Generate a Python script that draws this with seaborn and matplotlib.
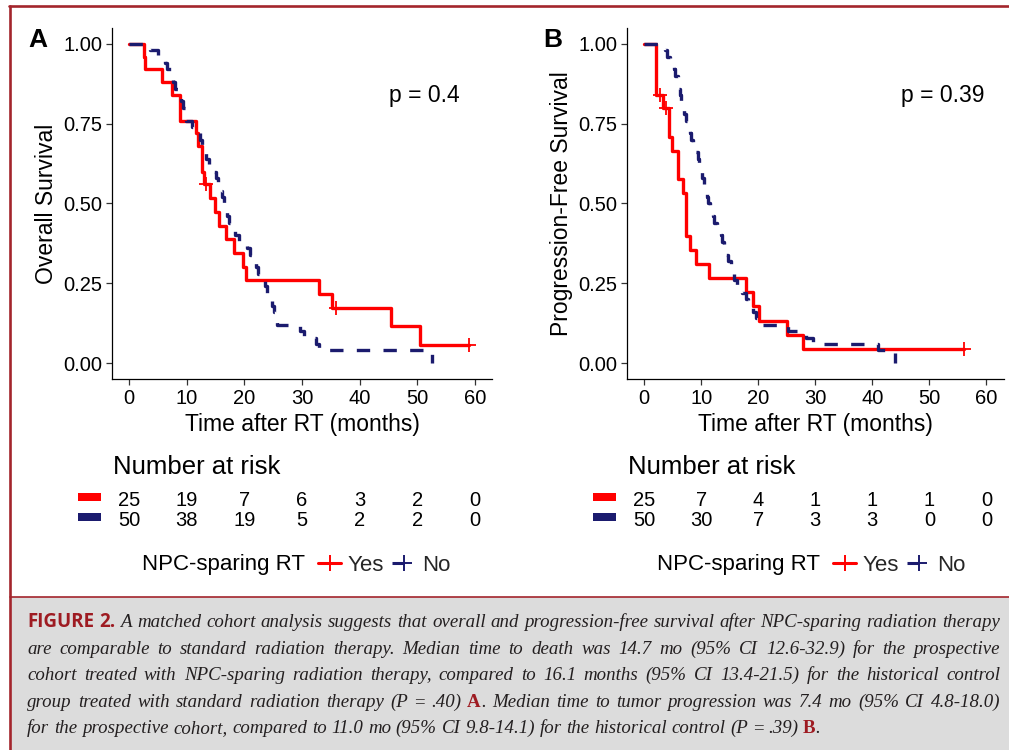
import matplotlib
matplotlib.use("Agg")
import matplotlib.pyplot as plt
import matplotlib.transforms as mtransforms
from matplotlib.patches import Rectangle
from matplotlib.lines import Line2D
import numpy as np
import pandas as pd
import seaborn as sns

# ---------------- data ----------------
x_ticks = [0, 10, 20, 30, 40, 50, 60]
y_ticks = [0.00, 0.25, 0.50, 0.75, 1.00]
y_tick_labels = ["0.00", "0.25", "0.50", "0.75", "1.00"]
groups = ["Yes", "No"]

# Panel A: overall survival
os_yes_time = [0, 2.6, 2.8, 5.7, 7.5, 8.8, 11.6, 12.0, 12.6, 13.0, 14.0, 14.9, 15.6,
               16.8, 18.2, 19.7, 20.2, 32.9, 35.2, 45.5, 50.5, 59.0]
os_yes_surv = [1.0, 0.96, 0.92, 0.88, 0.84, 0.76, 0.72, 0.68, 0.60, 0.56, 0.517, 0.474,
               0.431, 0.388, 0.345, 0.302, 0.259, 0.216, 0.172, 0.115, 0.057, 0.057]
os_yes_cens_time = [13.4, 35.9, 59.0]
os_yes_cens_surv = [0.56, 0.172, 0.057]

os_no_time = [0, 3.6, 5.0, 6.2, 6.6, 7.2, 7.6, 8.0, 8.6, 9.0,
              9.4, 9.8, 9.9, 10.9, 11.6, 12.2, 12.6, 13.0, 13.4, 13.8,
              14.4, 15.0, 15.4, 15.8, 16.1, 16.4, 16.7, 17.0, 17.3, 17.8,
              18.4, 19.0, 20.4, 21.0, 21.6, 22.0, 22.4, 23.0, 23.5, 24.0,
              24.4, 24.8, 25.2, 25.5, 25.7, 29.6, 30.3, 32.4, 33.0, 52.5]
os_no_surv = [1.00, 0.98, 0.96, 0.94, 0.92, 0.90, 0.88, 0.86, 0.84, 0.82,
              0.80, 0.78, 0.76, 0.74, 0.72, 0.70, 0.68, 0.66, 0.64, 0.62,
              0.60, 0.58, 0.56, 0.54, 0.52, 0.50, 0.48, 0.46, 0.44, 0.42,
              0.40, 0.38, 0.36, 0.34, 0.32, 0.30, 0.28, 0.26, 0.24, 0.22,
              0.20, 0.18, 0.16, 0.14, 0.12, 0.10, 0.08, 0.06, 0.04, 0.00]

# Panel B: progression-free survival
pfs_yes_time = [0, 2.1, 3.3, 4.3, 4.9, 5.9, 6.9, 7.35, 8.1, 9.15, 11.3, 17.9, 19.0,
                20.1, 25.0, 27.8, 56.0]
pfs_yes_surv = [1.0, 0.84, 0.798, 0.709, 0.665, 0.576, 0.532, 0.399, 0.355, 0.310,
                0.267, 0.222, 0.178, 0.133, 0.089, 0.044, 0.044]
pfs_yes_cens_time = [2.85, 3.9, 56.0]
pfs_yes_cens_surv = [0.84, 0.798, 0.044]

pfs_no_time = [0, 3.6, 4.0, 4.6, 5.2, 5.5, 5.9, 6.1, 6.3, 6.5,
               6.8, 7.0, 7.3, 7.7, 8.0, 8.2, 8.5, 9.0, 9.4, 9.7,
               9.9, 10.2, 10.5, 10.8, 11.0, 11.2, 11.6, 12.0, 12.3, 12.8,
               13.4, 13.7, 14.0, 14.4, 14.7, 15.2, 15.5, 15.8, 16.3, 17.2,
               17.8, 18.2, 19.0, 19.6, 20.5, 25.2, 28.3, 29.6, 41.0, 44.0]
pfs_no_surv = [1.00, 0.98, 0.96, 0.94, 0.92, 0.90, 0.88, 0.86, 0.84, 0.82,
               0.80, 0.78, 0.76, 0.74, 0.72, 0.70, 0.68, 0.66, 0.64, 0.62,
               0.60, 0.58, 0.56, 0.54, 0.52, 0.50, 0.48, 0.46, 0.44, 0.42,
               0.40, 0.38, 0.36, 0.34, 0.32, 0.30, 0.28, 0.26, 0.24, 0.22,
               0.20, 0.18, 0.16, 0.14, 0.12, 0.10, 0.08, 0.06, 0.04, 0.00]

# Number at risk at x_ticks
risk_os_yes = [25, 19, 7, 6, 3, 2, 0]
risk_os_no = [50, 38, 19, 5, 2, 2, 0]
risk_pfs_yes = [25, 7, 4, 1, 1, 1, 0]
risk_pfs_no = [50, 30, 7, 3, 3, 0, 0]

p_values = ["p = 0.4", "p = 0.39"]
y_titles = ["Overall Survival", "Progression-Free Survival"]
panel_letters = ["A", "B"]
x_title = "Time after RT (months)"
risk_title = "Number at risk"
legend_title = "NPC-sparing RT"

caption_lines = [
    [("FIGURE 2.", "fig"), (" ", "it"), ("A matched cohort analysis suggests that overall and progression-free survival after NPC-sparing radiation therapy", "it")],
    [("are comparable to standard radiation therapy. Median time to death was 14.7 mo (95% CI 12.6-32.9) for the prospective", "it")],
    [("cohort treated with NPC-sparing radiation therapy, compared to 16.1 months (95% CI 13.4-21.5) for the historical control", "it")],
    [("group treated with standard radiation therapy (P ", "it"), ("=", "rm"), (" .40) ", "it"), ("A", "bd"),
     (". Median time to tumor progression was 7.4 mo (95% CI 4.8-18.0)", "it")],
    [("for the prospective cohort, compared to 11.0 mo (95% CI 9.8-14.1) for the historical control (P ", "it"),
     ("=", "rm"), (" .39) ", "it"), ("B", "bd"), (".", "it")],
]

# ---------------- style ----------------
RED = "#FF0000"
NAVY = "#1B1B6E"
FRAME = "#A3252C"
CAP_RED = "#9E1B22"
CAP_BG = "#DCDCDC"
W, H = 1009, 750

sns.set_style("ticks")
plt.rcParams["font.family"] = ["Liberation Sans", "DejaVu Sans"]

fig = plt.figure(figsize=(W / 100, H / 100), dpi=100)
fig.patch.set_facecolor("white")


def fx(x):
    return x / W


def fy(y):
    return 1 - y / H


def px_axes(left, top, right, bottom):
    return fig.add_axes([fx(left), fy(bottom), (right - left) / W, (bottom - top) / H])


# ---------------- frame and caption box ----------------
fig.patches.append(Rectangle((fx(10), 0), fx(W) - fx(10), fy(597), transform=fig.transFigure,
                             facecolor=CAP_BG, edgecolor="none", zorder=0))
fig.lines.append(Line2D([fx(10), fx(10)], [fy(5.5), 0], transform=fig.transFigure,
                        color=FRAME, lw=1.9, zorder=5))
fig.lines.append(Line2D([fx(9), 1], [fy(6), fy(6)], transform=fig.transFigure,
                        color=FRAME, lw=1.9, zorder=5))
fig.lines.append(Line2D([fx(10), 1], [fy(597), fy(597)], transform=fig.transFigure,
                        color=FRAME, lw=1.2, zorder=5))

panels = [
    dict(box=(112, 28, 492, 379), off=0,
         yes=(os_yes_time, os_yes_surv), no=(os_no_time, os_no_surv),
         cens=(os_yes_cens_time, os_yes_cens_surv), risk=(risk_os_yes, risk_os_no)),
    dict(box=(627, 28, 1003.5, 379), off=515,
         yes=(pfs_yes_time, pfs_yes_surv), no=(pfs_no_time, pfs_no_surv),
         cens=(pfs_yes_cens_time, pfs_yes_cens_surv), risk=(risk_pfs_yes, risk_pfs_no)),
]

for i, pnl in enumerate(panels):
    ax = px_axes(*pnl["box"])
    off = pnl["off"]
    df = pd.DataFrame({
        "time": list(pnl["yes"][0]) + list(pnl["no"][0]),
        "surv": list(pnl["yes"][1]) + list(pnl["no"][1]),
        "group": [groups[0]] * len(pnl["yes"][0]) + [groups[1]] * len(pnl["no"][0]),
    })
    sns.lineplot(data=df, x="time", y="surv", hue="group", style="group",
                 hue_order=groups, style_order=groups,
                 palette={"Yes": RED, "No": NAVY},
                 dashes={"Yes": "", "No": (4.0, 4.0)},
                 drawstyle="steps-post", estimator=None, sort=False,
                 linewidth=2.4, legend=False, ax=ax)
    sns.scatterplot(x=pnl["cens"][0], y=pnl["cens"][1], marker="+", s=110,
                    color=RED, linewidth=1.3, ax=ax, zorder=5, legend=False)

    ax.set_xlim(-3, 63)
    ax.set_ylim(-0.05, 1.05)
    ax.set_xticks(x_ticks)
    ax.set_xticklabels([str(t) for t in x_ticks])
    ax.set_yticks(y_ticks)
    ax.set_yticklabels(y_tick_labels)
    for s in ["top", "right"]:
        ax.spines[s].set_visible(False)
    for s in ["left", "bottom"]:
        ax.spines[s].set_linewidth(0.9)
        ax.spines[s].set_color("black")
    ax.tick_params(axis="both", length=4, width=0.9, color="#333333", pad=3,
                   labelsize=14.5, labelcolor="black")
    ax.set_xlabel(x_title, fontsize=16.5, labelpad=4, color="black")
    ax.set_ylabel(y_titles[i], fontsize=16.5, labelpad=3.5, color="black")
    ax.text(51.2 if i == 0 else 52.3, 0.84, p_values[i], ha="center", va="center",
            fontsize=16.5, color="black")
    ax.set_facecolor("white")

    fig.text(fx(28 + off), fy(47), panel_letters[i], fontsize=19, fontweight="bold",
             ha="left", va="baseline", color="black")

    # risk table
    fig.text(fx(113 + off), fy(474), risk_title, fontsize=18.5, ha="left",
             va="baseline", color="black")
    tr = mtransforms.blended_transform_factory(ax.transData, fig.transFigure)
    for row, (vals, col, base, bar_c) in enumerate([
            (pnl["risk"][0], RED, 506, 497), (pnl["risk"][1], NAVY, 526, 517)]):
        fig.patches.append(Rectangle((fx(78 + off), fy(bar_c + 4)), 23 / W, 8 / H,
                                     transform=fig.transFigure, facecolor=col,
                                     edgecolor="none"))
        for xt, v in zip(x_ticks, vals):
            fig.text(xt, fy(base), str(v), transform=tr, ha="center", va="baseline",
                     fontsize=14.5, color="black")

    # legend
    fig.text(fx(305 + off), fy(570), legend_title, fontsize=16, ha="right",
             va="baseline", color="black")
    handles = [Line2D([], [], color=RED, lw=2.2, marker="+", markersize=11,
                      markeredgewidth=1.4),
               Line2D([], [], color=NAVY, lw=2.2, ls=(0, (4.0, 4.0)), marker="+",
                      markersize=11, markeredgewidth=1.4)]
    fig.legend(handles, groups, loc="center left",
               bbox_to_anchor=(fx(318 + off), fy(565.5)), bbox_transform=fig.transFigure,
               ncol=2, frameon=False, fontsize=16, handlelength=1.05,
               handletextpad=0.3, columnspacing=0.35, borderpad=0, borderaxespad=0)

# ---------------- caption (justified, word-by-word) ----------------
fig.canvas.draw()
renderer = fig.canvas.get_renderer()

STYLES = {
    "fig": dict(family=["Open Sans", "DejaVu Sans"], fontweight="bold", color=CAP_RED),
    "it": dict(family=["Liberation Serif", "DejaVu Serif"], style="italic", color="#231F20"),
    "rm": dict(family=["Liberation Serif", "DejaVu Serif"], color="#231F20"),
    "bd": dict(family=["Liberation Serif", "DejaVu Serif"], fontweight="bold", color=CAP_RED),
}


def measure(txt, style, size):
    t = fig.text(0, 0, txt, fontsize=size, **STYLES[style])
    w = t.get_window_extent(renderer).width
    t.remove()
    return w


def line_words(segs):
    words = [[]]
    for text, style in segs:
        parts = text.split(" ")
        for k, p in enumerate(parts):
            if k > 0:
                words.append([])
            if p:
                words[-1].append((p, style))
    return [w for w in words if w]


def words_width(words, size, fig_size):
    total = 0
    for w in words:
        for p, st in w:
            total += measure(p, st, fig_size if st == "fig" else size)
    return total


CAP_LEFT, CAP_RIGHT = 27, 1000
baselines = [627, 654, 680, 707, 733]
targets = [CAP_RIGHT - CAP_LEFT] * 4 + [826.0]

# calibrate sizes: largest size at which no line needs squeezed spaces
base = 12.0
fig_size = base * 88.0 / measure("FIGURE 2.", "fig", base)
sp_w = measure("a a", "it", base) - measure("aa", "it", base)
ratios = []
for li, segs in enumerate(caption_lines):
    ws = line_words(segs)
    fixed = sum(measure(p, st, fig_size) for w in ws for p, st in w if st == "fig")
    nat = words_width(ws, base, fig_size) - fixed + sp_w * (len(ws) - 1)
    extra = 10 if li == 0 else 0
    ratios.append((targets[li] - fixed - extra) / nat)
cap_size = base * min(ratios)
sp_w = measure("a a", "it", cap_size) - measure("aa", "it", cap_size)

for li, segs in enumerate(caption_lines):
    words = line_words(segs)
    ww = words_width(words, cap_size, fig_size)
    if li < len(caption_lines) - 1:
        gap = (CAP_RIGHT - CAP_LEFT - ww) / (len(words) - 1)
    else:
        gap = sp_w
    x = CAP_LEFT
    for wi, w in enumerate(words):
        for p, st in w:
            sz = fig_size if st == "fig" else cap_size
            fig.text(fx(x), fy(baselines[li]), p, fontsize=sz, ha="left",
                     va="baseline", **STYLES[st])
            x += measure(p, st, sz)
        x += gap

fig.savefig("out.png", dpi=100, facecolor="white")
